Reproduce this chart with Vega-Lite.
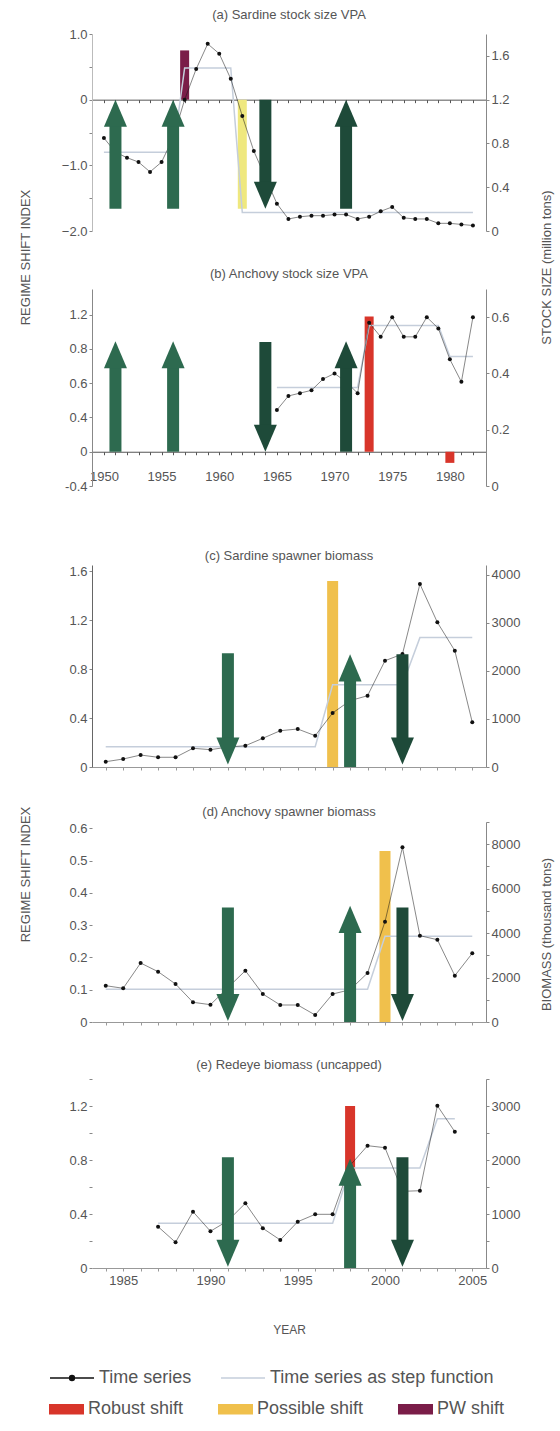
{
  "$schema": "https://vega.github.io/schema/vega-lite/v6.json",
  "background": "white",
  "padding": {"left": 19, "top": 8, "right": 5, "bottom": 5},
  "config": {
    "view": {"stroke": null},
    "font": "Liberation Sans",
    "axis": {"grid": false, "labelFont": "Liberation Sans", "labelFontSize": 13, "labelColor": "#555", "domainColor": "#888", "tickColor": "#888", "tickSize": 3, "titleFont": "Liberation Sans", "titleFontSize": 13, "titleFontWeight": "normal", "titleColor": "#555", "labelFlush": false, "labelOverlap": false},
    "title": {"font": "Liberation Sans", "fontSize": 13, "fontWeight": "normal", "color": "#555", "anchor": "middle"},
    "legend": {"padding": 0}
  },
  "resolve": {"scale": {"fill": "shared", "stroke": "shared", "color": "shared", "shape": "shared"}, "legend": {"fill": "shared", "stroke": "shared"}},
  "bounds": "flush",
  "spacing": 0,
  "vconcat": [
    {
      "title": {"text": "(a) Sardine stock size VPA", "offset": 6.5},
      "width": 394, "height": 197,
      "encoding": {"x": {"field": "year", "type": "quantitative", "scale": {"domain": [1949.4, 1982.7], "nice": false, "zero": false},
        "axis": {"orient": "bottom", "offset": -131.33, "values": [1950,1951,1952,1953,1954,1955,1956,1957,1958,1959,1960,1961,1962,1963,1964,1965,1966,1967,1968,1969,1970,1971,1972,1973,1974,1975,1976,1977,1978,1979,1980,1981,1982], "labels": false, "title": null, "domainColor": "#555", "tickColor": "#555"}}},
      "layer": [
        {
          "data": {"values": [{"year": 1957, "rsi": 0.75, "kind": "PW shift"}, {"year": 1962, "rsi": -1.66, "kind": "Possible shift (a)"}]},
          "mark": {"type": "bar", "size": 9},
          "encoding": {
            "y": {"field": "rsi", "type": "quantitative", "scale": {"domain": [-2, 1], "nice": false, "zero": false},
              "axis": {"orient": "left", "values": [-2,-1.5,-1,-0.5,0,0.5,1], "labelExpr": "datum.value == 0 ? '0' : (round(datum.value*2) % 2 == 0 ? format(datum.value, '.1f') : '')", "title": "REGIME SHIFT INDEX", "titleX": -67, "titleY": 223, "titleAngle": 270, "titleAlign": "center", "titleBaseline": "middle", "domainColor": "#bbb"}},
            "y2": {"datum": 0},
            "fill": {"field": "kind", "type": "nominal", "scale": {"domain": ["Robust shift", "Possible shift", "PW shift", "Possible shift (a)"], "range": ["#d8352a", "#f0c04c", "#7a1d48", "#efe87e"]},
              "legend": {"title": null, "orient": "none", "legendX": -43, "legendY": 1357.5, "direction": "horizontal", "values": ["Robust shift", "Possible shift", "PW shift"], "symbolType": "M-1,-0.3H1V0.3H-1Z", "symbolSize": 1225, "symbolStrokeWidth": 0, "labelFontSize": 18, "labelColor": "#555", "labelFont": "Liberation Sans", "labelOffset": 4, "labelLimit": 0, "gridAlign": "each", "columnPadding": 34}}
          }
        },
        {
          "data": {"values": [
            {"year": 1950, "value": 0.85, "step": 0.72}, {"year": 1951, "value": 0.72, "step": 0.72}, {"year": 1952, "value": 0.67, "step": 0.72},
            {"year": 1953, "value": 0.63, "step": 0.72}, {"year": 1954, "value": 0.54, "step": 0.72}, {"year": 1955, "value": 0.63, "step": 0.72},
            {"year": 1956, "value": 0.85, "step": 0.72}, {"year": 1957, "value": 1.2, "step": 1.49}, {"year": 1958, "value": 1.48, "step": 1.49},
            {"year": 1959, "value": 1.71, "step": 1.49}, {"year": 1960, "value": 1.62, "step": 1.49}, {"year": 1961, "value": 1.39, "step": 1.49},
            {"year": 1962, "value": 1.05, "step": 0.17}, {"year": 1963, "value": 0.73, "step": 0.17}, {"year": 1964, "value": 0.49, "step": 0.17},
            {"year": 1965, "value": 0.25, "step": 0.17}, {"year": 1966, "value": 0.11, "step": 0.17}, {"year": 1967, "value": 0.13, "step": 0.17},
            {"year": 1968, "value": 0.14, "step": 0.17}, {"year": 1969, "value": 0.14, "step": 0.17}, {"year": 1970, "value": 0.15, "step": 0.17},
            {"year": 1971, "value": 0.15, "step": 0.17}, {"year": 1972, "value": 0.11, "step": 0.17}, {"year": 1973, "value": 0.13, "step": 0.17},
            {"year": 1974, "value": 0.18, "step": 0.17}, {"year": 1975, "value": 0.22, "step": 0.17}, {"year": 1976, "value": 0.12, "step": 0.17},
            {"year": 1977, "value": 0.11, "step": 0.17}, {"year": 1978, "value": 0.11, "step": 0.17}, {"year": 1979, "value": 0.07, "step": 0.17},
            {"year": 1980, "value": 0.07, "step": 0.17}, {"year": 1981, "value": 0.06, "step": 0.17}, {"year": 1982, "value": 0.05, "step": 0.17}
          ]},
          "layer": [
            {"mark": {"type": "line", "strokeWidth": 1.5},
             "encoding": {"y": {"field": "step", "type": "quantitative", "scale": {"domain": [0, 1.8], "nice": false, "zero": false},
               "axis": {"orient": "right", "values": [0,0.4,0.8,1.2,1.6], "labelExpr": "datum.value == 0 ? '0' : format(datum.value, '.1f')", "title": "STOCK SIZE (million tons)", "titleX": 60, "titleY": 233, "titleAngle": 270, "titleAlign": "center", "titleBaseline": "middle"}},
               "stroke": {"datum": "Time series as step function", "type": "nominal", "scale": {"domain": ["Time series", "Time series as step function"], "range": ["#111111", "#c5cedb"]},
                 "legend": {"title": null, "orient": "none", "legendX": -43, "legendY": 1321, "direction": "horizontal", "symbolSize": 1936, "symbolStrokeWidth": 1.5, "labelFontSize": 18, "labelColor": "#555", "labelFont": "Liberation Sans", "labelOffset": 4, "labelLimit": 0, "gridAlign": "each", "columnPadding": 26,
                   "encode": {"symbols": {"update": {"shape": {"signal": "datum.value === 'Time series' ? 'M-1,0H1M-0.11,0A0.11,0.11,0,1,1,0.11,0A0.11,0.11,0,1,1,-0.11,0Z' : 'M-1,0H1'"}, "fill": {"signal": "datum.value === 'Time series' ? '#111111' : 'transparent'"}, "strokeOpacity": {"value": 1}, "opacity": {"value": 1}}}}}}}},
            {"mark": {"type": "line", "strokeWidth": 1, "strokeOpacity": 0.5},
             "encoding": {"y": {"field": "value", "type": "quantitative", "scale": {"domain": [0, 1.8], "nice": false, "zero": false},
               "axis": {"orient": "right", "values": [0,0.4,0.8,1.2,1.6], "labelExpr": "datum.value == 0 ? '0' : format(datum.value, '.1f')", "title": "STOCK SIZE (million tons)", "titleX": 60, "titleY": 233, "titleAngle": 270, "titleAlign": "center", "titleBaseline": "middle"}},
               "stroke": {"datum": "Time series", "type": "nominal", "scale": {"domain": ["Time series", "Time series as step function"], "range": ["#111111", "#c5cedb"]},
                 "legend": {"title": null, "orient": "none", "legendX": -43, "legendY": 1321, "direction": "horizontal", "symbolSize": 1936, "symbolStrokeWidth": 1.5, "labelFontSize": 18, "labelColor": "#555", "labelFont": "Liberation Sans", "labelOffset": 4, "labelLimit": 0, "gridAlign": "each", "columnPadding": 26,
                   "encode": {"symbols": {"update": {"shape": {"signal": "datum.value === 'Time series' ? 'M-1,0H1M-0.11,0A0.11,0.11,0,1,1,0.11,0A0.11,0.11,0,1,1,-0.11,0Z' : 'M-1,0H1'"}, "fill": {"signal": "datum.value === 'Time series' ? '#111111' : 'transparent'"}, "strokeOpacity": {"value": 1}, "opacity": {"value": 1}}}}}}}},
            {"mark": {"type": "point", "filled": true, "color": "#111111", "size": 16, "opacity": 1},
             "encoding": {"y": {"field": "value", "type": "quantitative", "scale": {"domain": [0, 1.8], "nice": false, "zero": false},
               "axis": {"orient": "right", "values": [0,0.4,0.8,1.2,1.6], "labelExpr": "datum.value == 0 ? '0' : format(datum.value, '.1f')", "title": "STOCK SIZE (million tons)", "titleX": 60, "titleY": 233, "titleAngle": 270, "titleAlign": "center", "titleBaseline": "middle"}}}}
          ]
        },
        {
          "data": {"values": [
            {"year": 1951, "dir": "up", "tone": "light", "base": -1.66, "neck": -0.38, "tip": 0},
            {"year": 1956, "dir": "up", "tone": "light", "base": -1.66, "neck": -0.38, "tip": 0},
            {"year": 1964, "dir": "down", "tone": "dark", "base": 0, "neck": -1.28, "tip": -1.66},
            {"year": 1971, "dir": "up", "tone": "dark", "base": -1.66, "neck": -0.38, "tip": 0}
          ]},
          "layer": [
            {"mark": {"type": "bar", "size": 12},
             "encoding": {"y": {"field": "base", "type": "quantitative", "scale": {"domain": [-2, 1], "nice": false, "zero": false}, "axis": null}, "y2": {"field": "neck"},
               "color": {"field": "tone", "type": "nominal", "scale": {"domain": ["light", "dark"], "range": ["#2d6a4f", "#1e4a39"]}, "legend": null}}},
            {"mark": {"type": "point", "filled": true, "size": 529, "opacity": 1, "strokeWidth": 0},
             "encoding": {"y": {"field": "tip", "type": "quantitative", "scale": {"domain": [-2, 1], "nice": false, "zero": false}, "axis": null},
               "shape": {"field": "dir", "type": "nominal", "scale": {"domain": ["up", "down"], "range": ["M0,0L1,2.35L-1,2.35Z", "M0,0L1,-2.35L-1,-2.35Z"]}, "legend": null},
               "color": {"field": "tone", "type": "nominal", "scale": {"domain": ["light", "dark"], "range": ["#2d6a4f", "#1e4a39"]}, "legend": null}}}
          ]
        }
      ],
      "resolve": {"scale": {"y": "independent"}}
    },
    {"width": 394, "height": 58, "data": {"values": []}, "mark": "point"},
    {
      "title": {"text": "(b) Anchovy stock size VPA", "offset": 8.5},
      "width": 394, "height": 197,
      "encoding": {"x": {"field": "year", "type": "quantitative", "scale": {"domain": [1949.4, 1982.7], "nice": false, "zero": false},
        "axis": {"orient": "bottom", "offset": -34.26, "values": [1950,1951,1952,1953,1954,1955,1956,1957,1958,1959,1960,1961,1962,1963,1964,1965,1966,1967,1968,1969,1970,1971,1972,1973,1974,1975,1976,1977,1978,1979,1980,1981,1982], "labelExpr": "datum.value % 5 == 0 ? datum.value : ''", "labelPadding": 16, "title": null, "domainColor": "#555", "tickColor": "#555"}}},
      "layer": [
        {
          "data": {"values": [{"year": 1973, "rsi": 1.58, "kind": "Robust shift"}, {"year": 1980, "rsi": -0.13, "kind": "Robust shift"}]},
          "mark": {"type": "bar", "size": 9},
          "encoding": {
            "y": {"field": "rsi", "type": "quantitative", "scale": {"domain": [-0.4, 1.9], "nice": false, "zero": false},
              "axis": {"orient": "left", "values": [-0.4,0,0.4,0.8,1.2,1.6], "labelExpr": "datum.value > 1.5 ? '1.2' : datum.value > 1.1 ? '0.8' : datum.value > 0.7 ? '0.6' : datum.value > 0.3 ? '0.4' : datum.value > -0.1 ? '0' : '-0.4'", "title": null}},
            "y2": {"datum": 0},
            "fill": {"field": "kind", "type": "nominal", "scale": {"domain": ["Robust shift", "Possible shift", "PW shift", "Possible shift (a)"], "range": ["#d8352a", "#f0c04c", "#7a1d48", "#efe87e"]},
              "legend": {"title": null, "orient": "none", "legendX": -43, "legendY": 1357.5, "direction": "horizontal", "values": ["Robust shift", "Possible shift", "PW shift"], "symbolType": "M-1,-0.3H1V0.3H-1Z", "symbolSize": 1225, "symbolStrokeWidth": 0, "labelFontSize": 18, "labelColor": "#555", "labelFont": "Liberation Sans", "labelOffset": 4, "labelLimit": 0, "gridAlign": "each", "columnPadding": 34}}
          }
        },
        {
          "data": {"values": [
            {"year": 1965, "value": 0.27, "step": 0.35}, {"year": 1966, "value": 0.32, "step": 0.35}, {"year": 1967, "value": 0.33, "step": 0.35},
            {"year": 1968, "value": 0.34, "step": 0.35}, {"year": 1969, "value": 0.38, "step": 0.35}, {"year": 1970, "value": 0.40, "step": 0.35},
            {"year": 1971, "value": 0.37, "step": 0.35}, {"year": 1972, "value": 0.33, "step": 0.35}, {"year": 1973, "value": 0.58, "step": 0.57},
            {"year": 1974, "value": 0.53, "step": 0.57}, {"year": 1975, "value": 0.60, "step": 0.57}, {"year": 1976, "value": 0.53, "step": 0.57},
            {"year": 1977, "value": 0.53, "step": 0.57}, {"year": 1978, "value": 0.60, "step": 0.57}, {"year": 1979, "value": 0.56, "step": 0.57},
            {"year": 1980, "value": 0.45, "step": 0.46}, {"year": 1981, "value": 0.37, "step": 0.46}, {"year": 1982, "value": 0.60, "step": 0.46}
          ]},
          "layer": [
            {"mark": {"type": "line", "strokeWidth": 1.5},
             "encoding": {"y": {"field": "step", "type": "quantitative", "scale": {"domain": [0, 0.7], "nice": false, "zero": false},
               "axis": {"orient": "right", "values": [0,0.2,0.4,0.6], "labelExpr": "datum.value == 0 ? '0' : format(datum.value, '.1f')", "title": null}},
               "stroke": {"datum": "Time series as step function", "type": "nominal", "scale": {"domain": ["Time series", "Time series as step function"], "range": ["#111111", "#c5cedb"]},
                 "legend": {"title": null, "orient": "none", "legendX": -43, "legendY": 1321, "direction": "horizontal", "symbolSize": 1936, "symbolStrokeWidth": 1.5, "labelFontSize": 18, "labelColor": "#555", "labelFont": "Liberation Sans", "labelOffset": 4, "labelLimit": 0, "gridAlign": "each", "columnPadding": 26,
                   "encode": {"symbols": {"update": {"shape": {"signal": "datum.value === 'Time series' ? 'M-1,0H1M-0.11,0A0.11,0.11,0,1,1,0.11,0A0.11,0.11,0,1,1,-0.11,0Z' : 'M-1,0H1'"}, "fill": {"signal": "datum.value === 'Time series' ? '#111111' : 'transparent'"}, "strokeOpacity": {"value": 1}, "opacity": {"value": 1}}}}}}}},
            {"mark": {"type": "line", "strokeWidth": 1, "strokeOpacity": 0.5},
             "encoding": {"y": {"field": "value", "type": "quantitative", "scale": {"domain": [0, 0.7], "nice": false, "zero": false},
               "axis": {"orient": "right", "values": [0,0.2,0.4,0.6], "labelExpr": "datum.value == 0 ? '0' : format(datum.value, '.1f')", "title": null}},
               "stroke": {"datum": "Time series", "type": "nominal", "scale": {"domain": ["Time series", "Time series as step function"], "range": ["#111111", "#c5cedb"]},
                 "legend": {"title": null, "orient": "none", "legendX": -43, "legendY": 1321, "direction": "horizontal", "symbolSize": 1936, "symbolStrokeWidth": 1.5, "labelFontSize": 18, "labelColor": "#555", "labelFont": "Liberation Sans", "labelOffset": 4, "labelLimit": 0, "gridAlign": "each", "columnPadding": 26,
                   "encode": {"symbols": {"update": {"shape": {"signal": "datum.value === 'Time series' ? 'M-1,0H1M-0.11,0A0.11,0.11,0,1,1,0.11,0A0.11,0.11,0,1,1,-0.11,0Z' : 'M-1,0H1'"}, "fill": {"signal": "datum.value === 'Time series' ? '#111111' : 'transparent'"}, "strokeOpacity": {"value": 1}, "opacity": {"value": 1}}}}}}}},
            {"mark": {"type": "point", "filled": true, "color": "#111111", "size": 16, "opacity": 1},
             "encoding": {"y": {"field": "value", "type": "quantitative", "scale": {"domain": [0, 0.7], "nice": false, "zero": false},
               "axis": {"orient": "right", "values": [0,0.2,0.4,0.6], "labelExpr": "datum.value == 0 ? '0' : format(datum.value, '.1f')", "title": null}}}}
          ]
        },
        {
          "data": {"values": [
            {"year": 1951, "dir": "up", "tone": "light", "base": 0, "neck": 1.0, "tip": 1.29},
            {"year": 1956, "dir": "up", "tone": "light", "base": 0, "neck": 1.0, "tip": 1.29},
            {"year": 1964, "dir": "down", "tone": "dark", "base": 1.28, "neck": 0.29, "tip": 0},
            {"year": 1971, "dir": "up", "tone": "dark", "base": 0, "neck": 1.0, "tip": 1.29}
          ]},
          "layer": [
            {"mark": {"type": "bar", "size": 12},
             "encoding": {"y": {"field": "base", "type": "quantitative", "scale": {"domain": [-0.4, 1.9], "nice": false, "zero": false}, "axis": null}, "y2": {"field": "neck"},
               "color": {"field": "tone", "type": "nominal", "scale": {"domain": ["light", "dark"], "range": ["#2d6a4f", "#1e4a39"]}, "legend": null}}},
            {"mark": {"type": "point", "filled": true, "size": 529, "opacity": 1, "strokeWidth": 0},
             "encoding": {"y": {"field": "tip", "type": "quantitative", "scale": {"domain": [-0.4, 1.9], "nice": false, "zero": false}, "axis": null},
               "shape": {"field": "dir", "type": "nominal", "scale": {"domain": ["up", "down"], "range": ["M0,0L1,2.35L-1,2.35Z", "M0,0L1,-2.35L-1,-2.35Z"]}, "legend": null},
               "color": {"field": "tone", "type": "nominal", "scale": {"domain": ["light", "dark"], "range": ["#2d6a4f", "#1e4a39"]}, "legend": null}}}
          ]
        }
      ],
      "resolve": {"scale": {"y": "independent"}}
    },
    {"width": 394, "height": 79, "data": {"values": []}, "mark": "point"},
    {
      "title": {"text": "(c) Sardine spawner biomass", "offset": 2},
      "width": 394, "height": 202,
      "encoding": {"x": {"field": "year", "type": "quantitative", "scale": {"domain": [1983.5, 2005.5], "nice": false, "zero": false},
        "axis": {"orient": "bottom", "values": [1984,1985,1986,1987,1988,1989,1990,1991,1992,1993,1994,1995,1996,1997,1998,1999,2000,2001,2002,2003,2004,2005], "labels": false, "title": null, "domainColor": "#999", "tickColor": "#999"}}},
      "layer": [
        {
          "data": {"values": [{"year": 1997, "rsi": 1.52, "kind": "Possible shift"}]},
          "mark": {"type": "bar", "size": 11},
          "encoding": {
            "y": {"field": "rsi", "type": "quantitative", "scale": {"domain": [0, 1.65], "nice": false, "zero": false},
              "axis": {"orient": "left", "values": [0,0.4,0.8,1.2,1.6], "labelExpr": "datum.value == 0 ? '0' : format(datum.value, '.1f')", "title": "REGIME SHIFT INDEX", "titleX": -67, "titleY": 309, "titleAngle": 270, "titleAlign": "center", "titleBaseline": "middle", "domainColor": "#666"}},
            "y2": {"datum": 0},
            "fill": {"field": "kind", "type": "nominal", "scale": {"domain": ["Robust shift", "Possible shift", "PW shift", "Possible shift (a)"], "range": ["#d8352a", "#f0c04c", "#7a1d48", "#efe87e"]},
              "legend": {"title": null, "orient": "none", "legendX": -43, "legendY": 1357.5, "direction": "horizontal", "values": ["Robust shift", "Possible shift", "PW shift"], "symbolType": "M-1,-0.3H1V0.3H-1Z", "symbolSize": 1225, "symbolStrokeWidth": 0, "labelFontSize": 18, "labelColor": "#555", "labelFont": "Liberation Sans", "labelOffset": 4, "labelLimit": 0, "gridAlign": "each", "columnPadding": 34}}
          }
        },
        {
          "data": {"values": [
            {"year": 1984, "value": 110, "step": 423}, {"year": 1985, "value": 166, "step": 423}, {"year": 1986, "value": 249, "step": 423},
            {"year": 1987, "value": 202, "step": 423}, {"year": 1988, "value": 202, "step": 423}, {"year": 1989, "value": 389, "step": 423},
            {"year": 1990, "value": 360, "step": 423}, {"year": 1991, "value": 415, "step": 423}, {"year": 1992, "value": 443, "step": 423},
            {"year": 1993, "value": 597, "step": 423}, {"year": 1994, "value": 755, "step": 423}, {"year": 1995, "value": 790, "step": 423},
            {"year": 1996, "value": 651, "step": 423}, {"year": 1997, "value": 1123, "step": 1708}, {"year": 1998, "value": 1380, "step": 1708},
            {"year": 1999, "value": 1482, "step": 1708}, {"year": 2000, "value": 2210, "step": 1708}, {"year": 2001, "value": 2349, "step": 1708},
            {"year": 2002, "value": 3805, "step": 2690}, {"year": 2003, "value": 3008, "step": 2690}, {"year": 2004, "value": 2418, "step": 2690},
            {"year": 2005, "value": 929, "step": 2690}
          ]},
          "layer": [
            {"mark": {"type": "line", "strokeWidth": 1.5},
             "encoding": {"y": {"field": "step", "type": "quantitative", "scale": {"domain": [0, 4200], "nice": false, "zero": false},
               "axis": {"orient": "right", "values": [0,1000,2000,3000,4000], "format": "d", "title": null}},
               "stroke": {"datum": "Time series as step function", "type": "nominal", "scale": {"domain": ["Time series", "Time series as step function"], "range": ["#111111", "#c5cedb"]},
                 "legend": {"title": null, "orient": "none", "legendX": -43, "legendY": 1321, "direction": "horizontal", "symbolSize": 1936, "symbolStrokeWidth": 1.5, "labelFontSize": 18, "labelColor": "#555", "labelFont": "Liberation Sans", "labelOffset": 4, "labelLimit": 0, "gridAlign": "each", "columnPadding": 26,
                   "encode": {"symbols": {"update": {"shape": {"signal": "datum.value === 'Time series' ? 'M-1,0H1M-0.11,0A0.11,0.11,0,1,1,0.11,0A0.11,0.11,0,1,1,-0.11,0Z' : 'M-1,0H1'"}, "fill": {"signal": "datum.value === 'Time series' ? '#111111' : 'transparent'"}, "strokeOpacity": {"value": 1}, "opacity": {"value": 1}}}}}}}},
            {"mark": {"type": "line", "strokeWidth": 1, "strokeOpacity": 0.5},
             "encoding": {"y": {"field": "value", "type": "quantitative", "scale": {"domain": [0, 4200], "nice": false, "zero": false},
               "axis": {"orient": "right", "values": [0,1000,2000,3000,4000], "format": "d", "title": null}},
               "stroke": {"datum": "Time series", "type": "nominal", "scale": {"domain": ["Time series", "Time series as step function"], "range": ["#111111", "#c5cedb"]},
                 "legend": {"title": null, "orient": "none", "legendX": -43, "legendY": 1321, "direction": "horizontal", "symbolSize": 1936, "symbolStrokeWidth": 1.5, "labelFontSize": 18, "labelColor": "#555", "labelFont": "Liberation Sans", "labelOffset": 4, "labelLimit": 0, "gridAlign": "each", "columnPadding": 26,
                   "encode": {"symbols": {"update": {"shape": {"signal": "datum.value === 'Time series' ? 'M-1,0H1M-0.11,0A0.11,0.11,0,1,1,0.11,0A0.11,0.11,0,1,1,-0.11,0Z' : 'M-1,0H1'"}, "fill": {"signal": "datum.value === 'Time series' ? '#111111' : 'transparent'"}, "strokeOpacity": {"value": 1}, "opacity": {"value": 1}}}}}}}},
            {"mark": {"type": "point", "filled": true, "color": "#111111", "size": 16, "opacity": 1},
             "encoding": {"y": {"field": "value", "type": "quantitative", "scale": {"domain": [0, 4200], "nice": false, "zero": false},
               "axis": {"orient": "right", "values": [0,1000,2000,3000,4000], "format": "d", "title": null}}}}
          ]
        },
        {
          "data": {"values": [
            {"year": 1991, "dir": "down", "tone": "light", "base": 0.93, "neck": 0.22, "tip": 0.02},
            {"year": 1998, "dir": "up", "tone": "light", "base": 0, "neck": 0.72, "tip": 0.92},
            {"year": 2001, "dir": "down", "tone": "dark", "base": 0.92, "neck": 0.22, "tip": 0.02}
          ]},
          "layer": [
            {"mark": {"type": "bar", "size": 12},
             "encoding": {"y": {"field": "base", "type": "quantitative", "scale": {"domain": [0, 1.65], "nice": false, "zero": false}, "axis": null}, "y2": {"field": "neck"},
               "color": {"field": "tone", "type": "nominal", "scale": {"domain": ["light", "dark"], "range": ["#2d6a4f", "#1e4a39"]}, "legend": null}}},
            {"mark": {"type": "point", "filled": true, "size": 529, "opacity": 1, "strokeWidth": 0},
             "encoding": {"y": {"field": "tip", "type": "quantitative", "scale": {"domain": [0, 1.65], "nice": false, "zero": false}, "axis": null},
               "shape": {"field": "dir", "type": "nominal", "scale": {"domain": ["up", "down"], "range": ["M0,0L1,2.35L-1,2.35Z", "M0,0L1,-2.35L-1,-2.35Z"]}, "legend": null},
               "color": {"field": "tone", "type": "nominal", "scale": {"domain": ["light", "dark"], "range": ["#2d6a4f", "#1e4a39"]}, "legend": null}}}
          ]
        }
      ],
      "resolve": {"scale": {"y": "independent"}}
    },
    {"width": 394, "height": 55, "data": {"values": []}, "mark": "point"},
    {
      "title": {"text": "(d) Anchovy spawner biomass", "offset": -2.5},
      "width": 394, "height": 200,
      "encoding": {"x": {"field": "year", "type": "quantitative", "scale": {"domain": [1983.5, 2005.5], "nice": false, "zero": false},
        "axis": {"orient": "bottom", "values": [1984,1985,1986,1987,1988,1989,1990,1991,1992,1993,1994,1995,1996,1997,1998,1999,2000,2001,2002,2003,2004,2005], "labels": false, "title": null, "domainColor": "#999", "tickColor": "#999"}}},
      "layer": [
        {
          "data": {"values": [{"year": 2000, "rsi": 0.53, "kind": "Possible shift"}]},
          "mark": {"type": "bar", "size": 11},
          "encoding": {
            "y": {"field": "rsi", "type": "quantitative", "scale": {"domain": [0, 0.62], "nice": false, "zero": false},
              "axis": {"orient": "left", "values": [0,0.1,0.2,0.3,0.4,0.5,0.6], "labelExpr": "datum.value == 0 ? '0' : format(datum.value, '.1f')", "domain": false, "title": null}},
            "y2": {"datum": 0},
            "fill": {"field": "kind", "type": "nominal", "scale": {"domain": ["Robust shift", "Possible shift", "PW shift", "Possible shift (a)"], "range": ["#d8352a", "#f0c04c", "#7a1d48", "#efe87e"]},
              "legend": {"title": null, "orient": "none", "legendX": -43, "legendY": 1357.5, "direction": "horizontal", "values": ["Robust shift", "Possible shift", "PW shift"], "symbolType": "M-1,-0.3H1V0.3H-1Z", "symbolSize": 1225, "symbolStrokeWidth": 0, "labelFontSize": 18, "labelColor": "#555", "labelFont": "Liberation Sans", "labelOffset": 4, "labelLimit": 0, "gridAlign": "each", "columnPadding": 34}}
          }
        },
        {
          "data": {"values": [
            {"year": 1984, "value": 1634, "step": 1470}, {"year": 1985, "value": 1517, "step": 1470}, {"year": 1986, "value": 2655, "step": 1470},
            {"year": 1987, "value": 2264, "step": 1470}, {"year": 1988, "value": 1710, "step": 1470}, {"year": 1989, "value": 887, "step": 1470},
            {"year": 1990, "value": 779, "step": 1470}, {"year": 1991, "value": 1550, "step": 1470}, {"year": 1992, "value": 2309, "step": 1470},
            {"year": 1993, "value": 1260, "step": 1470}, {"year": 1994, "value": 765, "step": 1470}, {"year": 1995, "value": 765, "step": 1470},
            {"year": 1996, "value": 315, "step": 1470}, {"year": 1997, "value": 1260, "step": 1470}, {"year": 1998, "value": 1450, "step": 1470},
            {"year": 1999, "value": 2205, "step": 1470}, {"year": 2000, "value": 4514, "step": 3860}, {"year": 2001, "value": 7862, "step": 3860},
            {"year": 2002, "value": 3884, "step": 3860}, {"year": 2003, "value": 3704, "step": 3860}, {"year": 2004, "value": 2084, "step": 3860},
            {"year": 2005, "value": 3092, "step": 3860}
          ]},
          "layer": [
            {"mark": {"type": "line", "strokeWidth": 1.5},
             "encoding": {"y": {"field": "step", "type": "quantitative", "scale": {"domain": [0, 9000], "nice": false, "zero": false},
               "axis": {"orient": "right", "values": [0,1000,2000,3000,4000,5000,6000,7000,8000,9000], "labelExpr": "datum.value % 2000 == 0 && datum.value <= 8000 ? format(datum.value, 'd') : ''", "title": "BIOMASS (thousand tons)", "titleX": 60, "titleY": 112, "titleAngle": 270, "titleAlign": "center", "titleBaseline": "middle"}},
               "stroke": {"datum": "Time series as step function", "type": "nominal", "scale": {"domain": ["Time series", "Time series as step function"], "range": ["#111111", "#c5cedb"]},
                 "legend": {"title": null, "orient": "none", "legendX": -43, "legendY": 1321, "direction": "horizontal", "symbolSize": 1936, "symbolStrokeWidth": 1.5, "labelFontSize": 18, "labelColor": "#555", "labelFont": "Liberation Sans", "labelOffset": 4, "labelLimit": 0, "gridAlign": "each", "columnPadding": 26,
                   "encode": {"symbols": {"update": {"shape": {"signal": "datum.value === 'Time series' ? 'M-1,0H1M-0.11,0A0.11,0.11,0,1,1,0.11,0A0.11,0.11,0,1,1,-0.11,0Z' : 'M-1,0H1'"}, "fill": {"signal": "datum.value === 'Time series' ? '#111111' : 'transparent'"}, "strokeOpacity": {"value": 1}, "opacity": {"value": 1}}}}}}}},
            {"mark": {"type": "line", "strokeWidth": 1, "strokeOpacity": 0.5},
             "encoding": {"y": {"field": "value", "type": "quantitative", "scale": {"domain": [0, 9000], "nice": false, "zero": false},
               "axis": {"orient": "right", "values": [0,1000,2000,3000,4000,5000,6000,7000,8000,9000], "labelExpr": "datum.value % 2000 == 0 && datum.value <= 8000 ? format(datum.value, 'd') : ''", "title": "BIOMASS (thousand tons)", "titleX": 60, "titleY": 112, "titleAngle": 270, "titleAlign": "center", "titleBaseline": "middle"}},
               "stroke": {"datum": "Time series", "type": "nominal", "scale": {"domain": ["Time series", "Time series as step function"], "range": ["#111111", "#c5cedb"]},
                 "legend": {"title": null, "orient": "none", "legendX": -43, "legendY": 1321, "direction": "horizontal", "symbolSize": 1936, "symbolStrokeWidth": 1.5, "labelFontSize": 18, "labelColor": "#555", "labelFont": "Liberation Sans", "labelOffset": 4, "labelLimit": 0, "gridAlign": "each", "columnPadding": 26,
                   "encode": {"symbols": {"update": {"shape": {"signal": "datum.value === 'Time series' ? 'M-1,0H1M-0.11,0A0.11,0.11,0,1,1,0.11,0A0.11,0.11,0,1,1,-0.11,0Z' : 'M-1,0H1'"}, "fill": {"signal": "datum.value === 'Time series' ? '#111111' : 'transparent'"}, "strokeOpacity": {"value": 1}, "opacity": {"value": 1}}}}}}}},
            {"mark": {"type": "point", "filled": true, "color": "#111111", "size": 16, "opacity": 1},
             "encoding": {"y": {"field": "value", "type": "quantitative", "scale": {"domain": [0, 9000], "nice": false, "zero": false},
               "axis": {"orient": "right", "values": [0,1000,2000,3000,4000,5000,6000,7000,8000,9000], "labelExpr": "datum.value % 2000 == 0 && datum.value <= 8000 ? format(datum.value, 'd') : ''", "title": "BIOMASS (thousand tons)", "titleX": 60, "titleY": 112, "titleAngle": 270, "titleAlign": "center", "titleBaseline": "middle"}}}}
          ]
        },
        {
          "data": {"values": [
            {"year": 1991, "dir": "down", "tone": "light", "base": 0.355, "neck": 0.08, "tip": 0.003},
            {"year": 1998, "dir": "up", "tone": "light", "base": 0, "neck": 0.283, "tip": 0.36},
            {"year": 2001, "dir": "down", "tone": "dark", "base": 0.355, "neck": 0.08, "tip": 0.003}
          ]},
          "layer": [
            {"mark": {"type": "bar", "size": 12},
             "encoding": {"y": {"field": "base", "type": "quantitative", "scale": {"domain": [0, 0.62], "nice": false, "zero": false}, "axis": null}, "y2": {"field": "neck"},
               "color": {"field": "tone", "type": "nominal", "scale": {"domain": ["light", "dark"], "range": ["#2d6a4f", "#1e4a39"]}, "legend": null}}},
            {"mark": {"type": "point", "filled": true, "size": 529, "opacity": 1, "strokeWidth": 0},
             "encoding": {"y": {"field": "tip", "type": "quantitative", "scale": {"domain": [0, 0.62], "nice": false, "zero": false}, "axis": null},
               "shape": {"field": "dir", "type": "nominal", "scale": {"domain": ["up", "down"], "range": ["M0,0L1,2.35L-1,2.35Z", "M0,0L1,-2.35L-1,-2.35Z"]}, "legend": null},
               "color": {"field": "tone", "type": "nominal", "scale": {"domain": ["light", "dark"], "range": ["#2d6a4f", "#1e4a39"]}, "legend": null}}}
          ]
        }
      ],
      "resolve": {"scale": {"y": "independent"}}
    },
    {"width": 394, "height": 57, "data": {"values": []}, "mark": "point"},
    {
      "title": {"text": "(e) Redeye biomass (uncapped)", "offset": 1},
      "width": 394, "height": 189,
      "encoding": {"x": {"field": "year", "type": "quantitative", "scale": {"domain": [1983.5, 2005.5], "nice": false, "zero": false},
        "axis": {"orient": "bottom", "values": [1984,1985,1986,1987,1988,1989,1990,1991,1992,1993,1994,1995,1996,1997,1998,1999,2000,2001,2002,2003,2004,2005], "labelExpr": "datum.value % 5 == 0 ? datum.value : ''", "labelPadding": 3, "title": "YEAR", "titleY": 61, "titleBaseline": "middle", "titleFontSize": 12, "domainColor": "#999", "tickColor": "#999"}}},
      "layer": [
        {
          "data": {"values": [{"year": 1998, "rsi": 1.2, "kind": "Robust shift"}]},
          "mark": {"type": "bar", "size": 10},
          "encoding": {
            "y": {"field": "rsi", "type": "quantitative", "scale": {"domain": [0, 1.4], "nice": false, "zero": false},
              "axis": {"orient": "left", "values": [0,0.2,0.4,0.6,0.8,1.0,1.2,1.4], "labelExpr": "round(datum.value*10) % 4 == 0 ? (datum.value == 0 ? '0' : format(datum.value, '.1f')) : ''", "domain": false, "title": null}},
            "y2": {"datum": 0},
            "fill": {"field": "kind", "type": "nominal", "scale": {"domain": ["Robust shift", "Possible shift", "PW shift", "Possible shift (a)"], "range": ["#d8352a", "#f0c04c", "#7a1d48", "#efe87e"]},
              "legend": {"title": null, "orient": "none", "legendX": -43, "legendY": 1357.5, "direction": "horizontal", "values": ["Robust shift", "Possible shift", "PW shift"], "symbolType": "M-1,-0.3H1V0.3H-1Z", "symbolSize": 1225, "symbolStrokeWidth": 0, "labelFontSize": 18, "labelColor": "#555", "labelFont": "Liberation Sans", "labelOffset": 4, "labelLimit": 0, "gridAlign": "each", "columnPadding": 34}}
          }
        },
        {
          "data": {"values": [
            {"year": 1987, "value": 765, "step": 830}, {"year": 1988, "value": 476, "step": 830}, {"year": 1989, "value": 1043, "step": 830},
            {"year": 1990, "value": 680, "step": 830}, {"year": 1991, "value": 876, "step": 830}, {"year": 1992, "value": 1198, "step": 830},
            {"year": 1993, "value": 735, "step": 830}, {"year": 1994, "value": 519, "step": 830}, {"year": 1995, "value": 857, "step": 830},
            {"year": 1996, "value": 994, "step": 830}, {"year": 1997, "value": 994, "step": 830}, {"year": 1998, "value": 1900, "step": 1850},
            {"year": 1999, "value": 2265, "step": 1850}, {"year": 2000, "value": 2228, "step": 1850}, {"year": 2001, "value": 1420, "step": 1850},
            {"year": 2002, "value": 1431, "step": 1850}, {"year": 2003, "value": 3006, "step": 2765}, {"year": 2004, "value": 2524, "step": 2765}
          ]},
          "layer": [
            {"mark": {"type": "line", "strokeWidth": 1.5},
             "encoding": {"y": {"field": "step", "type": "quantitative", "scale": {"domain": [0, 3500], "nice": false, "zero": false},
               "axis": {"orient": "right", "values": [0,500,1000,1500,2000,2500,3000,3500], "labelExpr": "datum.value % 1000 == 0 ? format(datum.value, 'd') : ''", "title": null}},
               "stroke": {"datum": "Time series as step function", "type": "nominal", "scale": {"domain": ["Time series", "Time series as step function"], "range": ["#111111", "#c5cedb"]},
                 "legend": {"title": null, "orient": "none", "legendX": -43, "legendY": 1321, "direction": "horizontal", "symbolSize": 1936, "symbolStrokeWidth": 1.5, "labelFontSize": 18, "labelColor": "#555", "labelFont": "Liberation Sans", "labelOffset": 4, "labelLimit": 0, "gridAlign": "each", "columnPadding": 26,
                   "encode": {"symbols": {"update": {"shape": {"signal": "datum.value === 'Time series' ? 'M-1,0H1M-0.11,0A0.11,0.11,0,1,1,0.11,0A0.11,0.11,0,1,1,-0.11,0Z' : 'M-1,0H1'"}, "fill": {"signal": "datum.value === 'Time series' ? '#111111' : 'transparent'"}, "strokeOpacity": {"value": 1}, "opacity": {"value": 1}}}}}}}},
            {"mark": {"type": "line", "strokeWidth": 1, "strokeOpacity": 0.5},
             "encoding": {"y": {"field": "value", "type": "quantitative", "scale": {"domain": [0, 3500], "nice": false, "zero": false},
               "axis": {"orient": "right", "values": [0,500,1000,1500,2000,2500,3000,3500], "labelExpr": "datum.value % 1000 == 0 ? format(datum.value, 'd') : ''", "title": null}},
               "stroke": {"datum": "Time series", "type": "nominal", "scale": {"domain": ["Time series", "Time series as step function"], "range": ["#111111", "#c5cedb"]},
                 "legend": {"title": null, "orient": "none", "legendX": -43, "legendY": 1321, "direction": "horizontal", "symbolSize": 1936, "symbolStrokeWidth": 1.5, "labelFontSize": 18, "labelColor": "#555", "labelFont": "Liberation Sans", "labelOffset": 4, "labelLimit": 0, "gridAlign": "each", "columnPadding": 26,
                   "encode": {"symbols": {"update": {"shape": {"signal": "datum.value === 'Time series' ? 'M-1,0H1M-0.11,0A0.11,0.11,0,1,1,0.11,0A0.11,0.11,0,1,1,-0.11,0Z' : 'M-1,0H1'"}, "fill": {"signal": "datum.value === 'Time series' ? '#111111' : 'transparent'"}, "strokeOpacity": {"value": 1}, "opacity": {"value": 1}}}}}}}},
            {"mark": {"type": "point", "filled": true, "color": "#111111", "size": 16, "opacity": 1},
             "encoding": {"y": {"field": "value", "type": "quantitative", "scale": {"domain": [0, 3500], "nice": false, "zero": false},
               "axis": {"orient": "right", "values": [0,500,1000,1500,2000,2500,3000,3500], "labelExpr": "datum.value % 1000 == 0 ? format(datum.value, 'd') : ''", "title": null}}}}
          ]
        },
        {
          "data": {"values": [
            {"year": 1991, "dir": "down", "tone": "light", "base": 0.82, "neck": 0.195, "tip": 0.01},
            {"year": 1998, "dir": "up", "tone": "light", "base": 0, "neck": 0.625, "tip": 0.81},
            {"year": 2001, "dir": "down", "tone": "dark", "base": 0.82, "neck": 0.195, "tip": 0.01}
          ]},
          "layer": [
            {"mark": {"type": "bar", "size": 12},
             "encoding": {"y": {"field": "base", "type": "quantitative", "scale": {"domain": [0, 1.4], "nice": false, "zero": false}, "axis": null}, "y2": {"field": "neck"},
               "color": {"field": "tone", "type": "nominal", "scale": {"domain": ["light", "dark"], "range": ["#2d6a4f", "#1e4a39"]}, "legend": null}}},
            {"mark": {"type": "point", "filled": true, "size": 529, "opacity": 1, "strokeWidth": 0},
             "encoding": {"y": {"field": "tip", "type": "quantitative", "scale": {"domain": [0, 1.4], "nice": false, "zero": false}, "axis": null},
               "shape": {"field": "dir", "type": "nominal", "scale": {"domain": ["up", "down"], "range": ["M0,0L1,2.35L-1,2.35Z", "M0,0L1,-2.35L-1,-2.35Z"]}, "legend": null},
               "color": {"field": "tone", "type": "nominal", "scale": {"domain": ["light", "dark"], "range": ["#2d6a4f", "#1e4a39"]}, "legend": null}}}
          ]
        }
      ],
      "resolve": {"scale": {"y": "independent"}}
    }
  ]
}
